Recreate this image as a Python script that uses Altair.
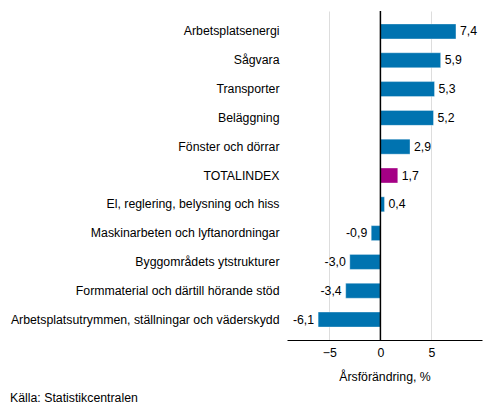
import altair as alt
import pandas as pd

kategorier = [
    "Arbetsplatsenergi",
    "Sågvara",
    "Transporter",
    "Beläggning",
    "Fönster och dörrar",
    "TOTALINDEX",
    "El, reglering, belysning och hiss",
    "Maskinarbeten och lyftanordningar",
    "Byggområdets ytstrukturer",
    "Formmaterial och därtill hörande stöd",
    "Arbetsplatsutrymmen, ställningar och väderskydd",
]
varden = [7.4, 5.9, 5.3, 5.2, 2.9, 1.7, 0.4, -0.9, -3.0, -3.4, -6.1]
etiketter = ["7,4", "5,9", "5,3", "5,2", "2,9", "1,7", "0,4", "-0,9", "-3,0", "-3,4", "-6,1"]
kalla = "Källa: Statistikcentralen"

df = pd.DataFrame({"kat": kategorier, "varde": varden, "etikett": etiketter})
df["total"] = df["kat"] == "TOTALINDEX"
df["pos"] = df["varde"] >= 0

FONT = "Liberation Sans"
FS = 12.3

x_scale = alt.Scale(domain=[-9.15, 9.95], nice=False, zero=False)
y_enc = alt.Y(
    "kat:N",
    sort=kategorier,
    title=None,
    scale=alt.Scale(paddingInner=0.48, paddingOuter=0.45),
    axis=alt.Axis(ticks=False, domain=False, labelPadding=8, labelFontSize=FS,
                  labelColor="#000000", labelLimit=300, grid=False),
)

base = alt.Chart(df)

staplar = base.mark_bar(strokeWidth=1, strokeOpacity=0.35, stroke="#ffffff").encode(
    x=alt.X(
        "varde:Q",
        scale=x_scale,
        title="Årsförändring, %",
        axis=alt.Axis(values=[-5, 0, 5], ticks=False, labelPadding=6, labelFontSize=FS,
                      labelColor="#000000", titleFontSize=FS, titleFontWeight="normal",
                      titleColor="#000000", titlePadding=12, domainColor="#000000",
                      gridColor="#dddddd", labelFlush=False),
    ),
    y=y_enc,
    color=alt.condition("datum.total", alt.value("#a50085"), alt.value("#0073b0")),
)

text_pos = base.transform_filter("datum.pos").mark_text(
    align="left", dx=4, fontSize=FS, font=FONT, color="#000000"
).encode(x=alt.X("varde:Q", scale=x_scale), y=y_enc, text="etikett:N")

text_neg = base.transform_filter("!datum.pos").mark_text(
    align="right", dx=-4, fontSize=FS, font=FONT, color="#000000"
).encode(x=alt.X("varde:Q", scale=x_scale), y=y_enc, text="etikett:N")

noll = alt.Chart(pd.DataFrame({"x": [0]})).mark_rule(color="#000000", strokeWidth=1.5).encode(
    x=alt.X("x:Q", scale=x_scale)
)

fotnot = alt.Chart(pd.DataFrame({"t": [kalla]})).mark_text(
    align="left", baseline="middle", fontSize=FS, font=FONT, color="#000000"
).encode(x=alt.value(-277), y=alt.value(387), text="t:N")

chart = (
    alt.layer(staplar, text_pos, text_neg, noll, fotnot)
    .properties(
        width=195,
        height=329,
        autosize=alt.AutoSizeParams(type="none"),
        padding={"left": 279, "top": 3, "right": 3, "bottom": 68},
    )
    .configure_axis(labelFont=FONT, titleFont=FONT)
    .configure_view(stroke=None)
)

chart.save("out.html", embed_options={"renderer": "svg", "actions": False})
